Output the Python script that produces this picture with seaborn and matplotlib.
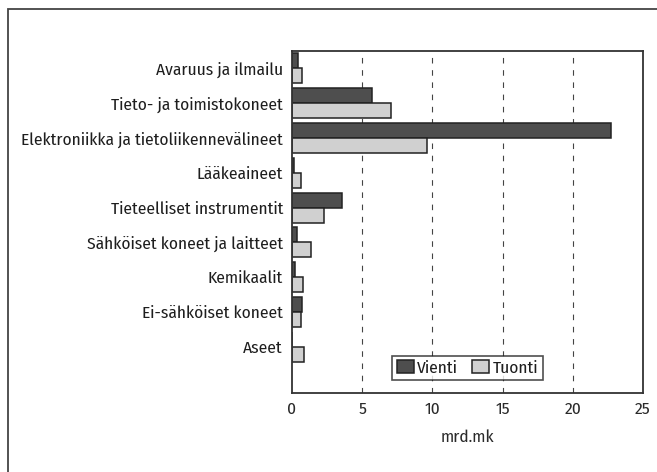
import matplotlib
matplotlib.use("Agg")
import matplotlib.pyplot as plt
import seaborn as sns
import pandas as pd
from matplotlib.patches import Rectangle

categories = [
    "Avaruus ja ilmailu",
    "Tieto- ja toimistokoneet",
    "Elektroniikka ja tietoliikennevälineet",
    "Lääkeaineet",
    "Tieteelliset instrumentit",
    "Sähköiset koneet ja laitteet",
    "Kemikaalit",
    "Ei-sähköiset koneet",
    "Aseet",
]
vienti = [0.43, 5.67, 22.7, 0.12, 3.57, 0.36, 0.19, 0.71, 0.03]
tuonti = [0.71, 7.07, 9.64, 0.64, 2.31, 1.36, 0.79, 0.62, 0.86]
series = ["Vienti", "Tuonti"]
xticks = [0, 5, 10, 15, 20, 25]
xlabel = "mrd.mk"

df = pd.DataFrame({
    "kategoria": categories * 2,
    "arvo": vienti + tuonti,
    "sarja": [series[0]] * len(categories) + [series[1]] * len(categories),
})

sns.set_theme(style="white")
plt.rcParams["font.family"] = ["Fira Sans Condensed", "Archivo Narrow", "DejaVu Sans"]
plt.rcParams["font.weight"] = "normal"
plt.rcParams["text.color"] = "#1e1e1e"
FS = 12.5

fig = plt.figure(figsize=(6.57, 4.72), dpi=100)
ax = fig.add_axes([292 / 657, 1 - 393 / 472, (643 - 292) / 657, (393 - 51) / 472])

sns.barplot(
    data=df, y="kategoria", x="arvo", hue="sarja", orient="h",
    palette={"Vienti": "#4e4e4e", "Tuonti": "#d0d0d0"},
    width=0.86, edgecolor="#222222", linewidth=1.1, ax=ax, legend=True,
)

ax.set_xlim(0, 25)
ax.set_ylim(9.33, -0.5)
ax.set_xticks(xticks)
ax.set_xticklabels([str(t) for t in xticks], fontsize=FS, color="#2a2a2a")
ax.tick_params(axis="x", direction="in", length=3, pad=6, color="#333333")
ax.tick_params(axis="y", length=0, pad=6.5, labelsize=FS, labelcolor="#1e1e1e")
ax.set_ylabel("")
ax.set_xlabel(xlabel, fontsize=FS, labelpad=9, color="#2a2a2a")

for v in [5, 10, 15, 20]:
    ax.axvline(v, color="#444444", linestyle=(0, (5, 6)), linewidth=0.8, zorder=0)

for s in ax.spines.values():
    s.set_color("#333333")
    s.set_linewidth(1.3)

leg = ax.legend(
    loc="lower center", bbox_to_anchor=(0.5, 0.012), ncol=2, frameon=True,
    fontsize=FS, handlelength=1.0, handleheight=0.8, handletextpad=0.2,
    columnspacing=0.8, borderpad=0.25, fancybox=False,
)
leg.get_frame().set_edgecolor("#222222")
leg.get_frame().set_linewidth(1.2)

# outer frame (left and top edges visible, rest cropped)
fig.patches.append(Rectangle((8 / 657, -0.05), 1.2, 1 - 9 / 472 + 0.05,
                             transform=fig.transFigure, fill=False,
                             edgecolor="#444444", linewidth=1.3))

fig.savefig("out.png", dpi=100)
